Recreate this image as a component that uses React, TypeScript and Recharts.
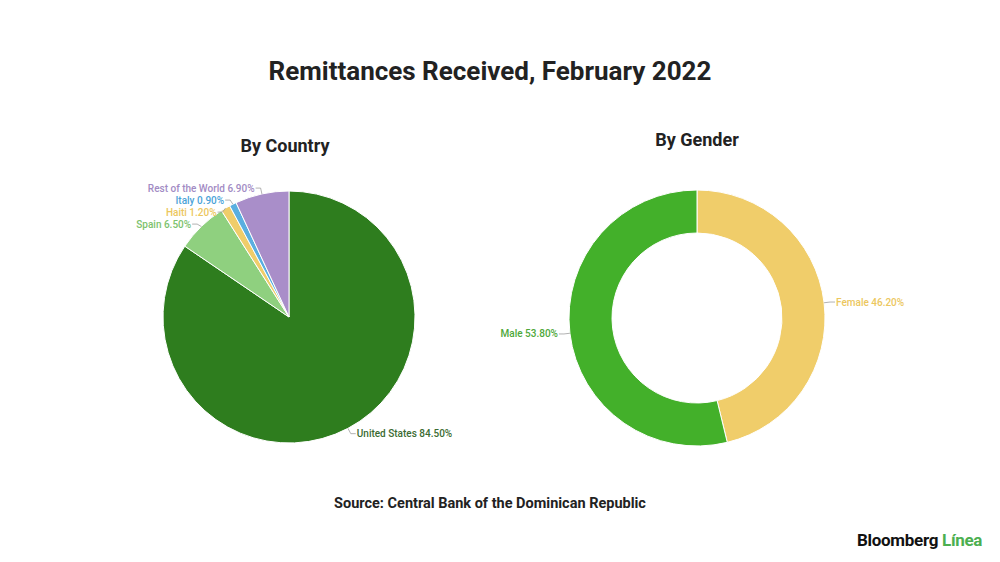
import React from 'react';
import { PieChart, Pie, Cell } from 'recharts';

const countryNames = ['United States', 'Spain', 'Haiti', 'Italy', 'Rest of the World'];
const countryValues = [84.5, 6.5, 1.2, 0.9, 6.9];
const countryColors = ['#2e7d1e', '#8fd07f', '#f0cd6a', '#5aafe0', '#a98ec9'];
const countryLabelColors = ['#3b6b32', '#7cc26c', '#ecc75e', '#4aa3d8', '#a28bc4'];

const genderNames = ['Female', 'Male'];
const genderValues = [46.2, 53.8];
const genderColors = ['#f0cd6a', '#43b02a'];
const genderLabelColors = ['#ecc75e', '#4ea83a'];

const countryData = countryNames.map((name, i) => ({ name, value: countryValues[i] }));
const genderData = genderNames.map((name, i) => ({ name, value: genderValues[i] }));

const RAD = Math.PI / 180;
const FONT = 'Roboto, "Noto Sans", sans-serif';

// label positions: elbow just outside the slice, then push overlapping ones apart
function labelSpots(values: number[], cx: number, cy: number, r: number) {
  const total = values.reduce((a, b) => a + b, 0);
  let start = 90;
  const spots = values.map((v) => {
    const span = (v / total) * 360;
    const mid = start - span / 2;
    start -= span;
    const cos = Math.cos(-mid * RAD);
    const sin = Math.sin(-mid * RAD);
    return {
      x0: cx + r * cos,
      y0: cy + r * sin,
      x1: cx + (r + 6) * cos,
      y1: cy + (r + 6) * sin,
      right: cos >= 0,
    };
  });
  [true, false].forEach((side) => {
    const group = spots.filter((s) => s.right === side).sort((a, b) => a.y1 - b.y1);
    for (let i = 1; i < group.length; i++) {
      if (group[i].y1 - group[i - 1].y1 < 12) group[i].y1 = group[i - 1].y1 + 12;
    }
  });
  return spots;
}

function makeLabel(names: string[], values: number[], colors: string[], cx: number, cy: number, r: number) {
  const spots = labelSpots(values, cx, cy, r);
  return (props: any) => {
    const i = props.index;
    const s = spots[i];
    const x2 = s.x1 + (s.right ? 5 : -5);
    return (
      <g key={`lbl-${names[i]}`}>
        <polyline
          points={`${s.x0},${s.y0} ${s.x1},${s.y1} ${x2},${s.y1}`}
          fill="none"
          stroke="#9e9e9e"
          strokeWidth={0.8}
        />
        <text
          x={x2 + (s.right ? 1 : -1)}
          y={s.y1}
          dy={3.5}
          textAnchor={s.right ? 'start' : 'end'}
          fontSize={10}
          fontWeight={500}
          fontFamily={FONT}
          fill={colors[i]}
        >
          {`${names[i]} ${values[i].toFixed(2)}%`}
        </text>
      </g>
    );
  };
}

const txt = (top: number, left: number, width: number, size: number, extra: React.CSSProperties = {}) => ({
  position: 'absolute' as const,
  top,
  left,
  width,
  textAlign: 'center' as const,
  fontSize: size,
  fontWeight: 700,
  fontFamily: FONT,
  color: '#222',
  lineHeight: 1,
  ...extra,
});

export default function App() {
  return (
    <div style={{ position: 'absolute', left: 0, top: 0, width: 1000, height: 562, background: '#fff' }}>
      <div style={txt(58, 0, 980, 26)}>Remittances Received, February 2022</div>
      <div style={txt(137, 185, 200, 18)}>By Country</div>
      <div style={txt(131, 597, 200, 18)}>By Gender</div>
      <div style={txt(497, 0, 980, 14.5)}>Source: Central Bank of the Dominican Republic</div>
      <div style={{ ...txt(532, 857, 140, 17, { textAlign: 'left', color: '#111', letterSpacing: -0.3 }) }}>
        Bloomberg <span style={{ color: '#4caf50' }}>Línea</span>
      </div>
      <PieChart
        width={1000}
        height={562}
        margin={{ top: 0, right: 0, bottom: 0, left: 0 }}
        style={{ position: 'absolute', left: 0, top: 0 }}
      >
        <Pie
          data={countryData}
          dataKey="value"
          nameKey="name"
          cx={289}
          cy={317}
          outerRadius={126}
          startAngle={90}
          endAngle={-270}
          stroke="#fff"
          strokeWidth={1}
          label={makeLabel(countryNames, countryValues, countryLabelColors, 289, 317, 126)}
          labelLine={false}
          isAnimationActive={false}
        >
          {countryData.map((d, i) => (
            <Cell key={`c-${d.name}`} fill={countryColors[i]} />
          ))}
        </Pie>
        <Pie
          data={genderData}
          dataKey="value"
          nameKey="name"
          cx={697}
          cy={318}
          innerRadius={85}
          outerRadius={128}
          startAngle={90}
          endAngle={-270}
          stroke="#fff"
          strokeWidth={1}
          label={makeLabel(genderNames, genderValues, genderLabelColors, 697, 318, 128)}
          labelLine={false}
          isAnimationActive={false}
        >
          {genderData.map((d, i) => (
            <Cell key={`g-${d.name}`} fill={genderColors[i]} />
          ))}
        </Pie>
      </PieChart>
    </div>
  );
}
